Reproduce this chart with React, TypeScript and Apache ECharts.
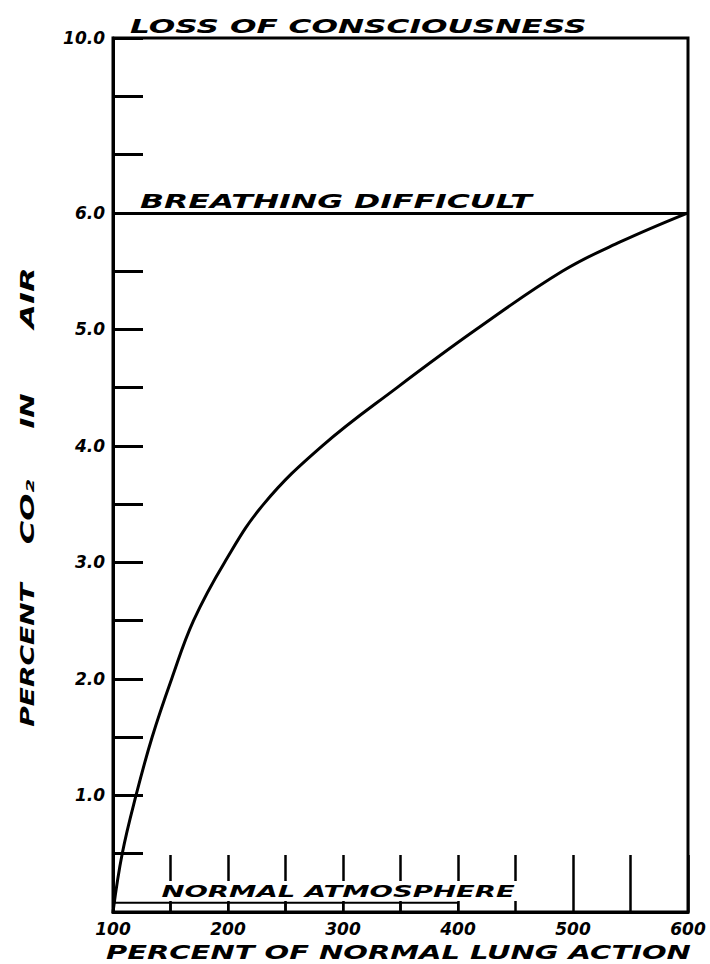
import { useEffect, useRef } from "react";
import * as echarts from "echarts";

// Curve: percent of normal lung action (x) vs percent CO2 in air (y)
const lungAction = [100, 108, 120, 134, 151, 170, 197, 231, 282, 347, 416, 491, 541, 600];
const co2Percent = [0, 0.5, 1.0, 1.5, 2.0, 2.5, 3.0, 3.5, 4.0, 4.5, 5.0, 5.5, 5.75, 6.0];

// Axis settings / tick labels
const xMin = 100;
const xMax = 600;
const xTickStep = 50;
const xLabelValues = [100, 200, 300, 400, 500, 600];
const yMin = 0;
const yTickStep = 0.5;
const yLabelValues = [1, 2, 3, 4, 5, 6];
// The scale is broken above 6.0: the top of the frame is labelled 10.0
const yBreakTop = 7.5;
const yBreakTopLabel = "10.0";

// Reference levels
const breathingDifficultLevel = 6.0;
const normalAtmosphereBounds = [100, 150, 200, 250, 300, 350, 400];
const normalAtmosphereHeight = 0.08;

const FONT = '"DejaVu Sans", sans-serif';

export default function App() {
  const ref = useRef<HTMLDivElement>(null);

  useEffect(() => {
    if (!ref.current) return;
    const chart = echarts.init(ref.current, undefined, { renderer: "svg" });

    const areaPairs = normalAtmosphereBounds.slice(0, -1).map((b, i) => [
      { xAxis: b, yAxis: 0 },
      { xAxis: normalAtmosphereBounds[i + 1], yAxis: normalAtmosphereHeight },
    ]);

    const txt = (
      text: string,
      x: number,
      y: number,
      size: number,
      scaleX: number,
      align: string,
      rotation = 0,
      bg?: string
    ) => ({
      type: "text",
      x,
      y,
      z: 100,
      rotation,
      scaleX,
      silent: true,
      style: {
        text,
        fill: "#000",
        fontFamily: FONT,
        fontSize: size,
        fontWeight: "bold",
        fontStyle: "italic",
        textAlign: align,
        textVerticalAlign: "middle",
        align,
        verticalAlign: "middle",
        backgroundColor: bg,
        padding: bg ? [2, 2] : 0,
      },
    });

    chart.setOption({
      animation: false,
      backgroundColor: "#fff",
      grid: {
        left: 113,
        right: 22,
        top: 38,
        bottom: 52,
        show: true,
        borderColor: "#000",
        borderWidth: 3,
        backgroundColor: "transparent",
      },
      xAxis: {
        type: "value",
        min: xMin,
        max: xMax,
        interval: xTickStep,
        axisLine: { show: true, lineStyle: { color: "#000", width: 3 } },
        axisTick: { show: true, inside: true, length: 57, lineStyle: { color: "#000", width: 2.5 } },
        splitLine: { show: false },
        axisLabel: {
          show: true,
          showMinLabel: true,
          showMaxLabel: true,
          margin: 8,
          color: "#000",
          fontFamily: FONT,
          fontSize: 17,
          fontWeight: "bold",
          fontStyle: "italic",
          formatter: (v: number) => (xLabelValues.includes(v) ? String(v) : ""),
        },
      },
      yAxis: {
        type: "value",
        min: yMin,
        max: yBreakTop,
        interval: yTickStep,
        axisLine: { show: true, lineStyle: { color: "#000", width: 3 } },
        axisTick: { show: true, inside: true, length: 30, lineStyle: { color: "#000", width: 3 } },
        splitLine: { show: false },
        axisLabel: {
          show: true,
          showMinLabel: true,
          showMaxLabel: true,
          margin: 8,
          color: "#000",
          fontFamily: FONT,
          fontSize: 17,
          fontWeight: "bold",
          fontStyle: "italic",
          formatter: (v: number) => {
            if (Math.abs(v - yBreakTop) < 1e-6) return yBreakTopLabel;
            const hit = yLabelValues.find((l) => Math.abs(l - v) < 1e-6);
            return hit !== undefined ? hit.toFixed(1) : "";
          },
        },
      },
      series: [
        {
          type: "line",
          name: "CO2",
          data: lungAction.map((x, i) => [x, co2Percent[i]]),
          smooth: 0.4,
          showSymbol: false,
          symbol: "none",
          lineStyle: { color: "#000", width: 3 },
          silent: true,
          markLine: {
            silent: true,
            symbol: ["none", "none"],
            label: { show: false },
            lineStyle: { color: "#000", width: 3, type: "solid" },
            data: [{ yAxis: breathingDifficultLevel }],
          },
          markArea: {
            silent: true,
            label: { show: false },
            itemStyle: { color: "rgba(0,0,0,0)", borderColor: "#000", borderWidth: 2 },
            data: areaPairs,
          },
        },
      ],
      graphic: [
        txt("LOSS OF CONSCIOUSNESS", 130, 26, 20, 1.56, "left"),
        txt("BREATHING DIFFICULT", 140, 201, 19, 1.66, "left"),
        txt("NORMAL ATMOSPHERE", 158, 891, 16, 1.72, "left", 0, "#fff"),
        txt("PERCENT OF NORMAL LUNG ACTION", 106, 952, 20, 1.45, "left"),
        txt("PERCENT", 27, 655, 20, 1.4, "center", Math.PI / 2),
        txt("CO₂", 27, 512, 20, 1.6, "center", Math.PI / 2),
        txt("IN", 27, 411, 20, 1.45, "center", Math.PI / 2),
        txt("AIR", 27, 298, 20, 1.6, "center", Math.PI / 2),
      ],
    });

    return () => chart.dispose();
  }, []);

  return (
    <div
      ref={ref}
      style={{ position: "fixed", left: 0, top: 0, width: 710, height: 964, background: "#fff" }}
    />
  );
}
